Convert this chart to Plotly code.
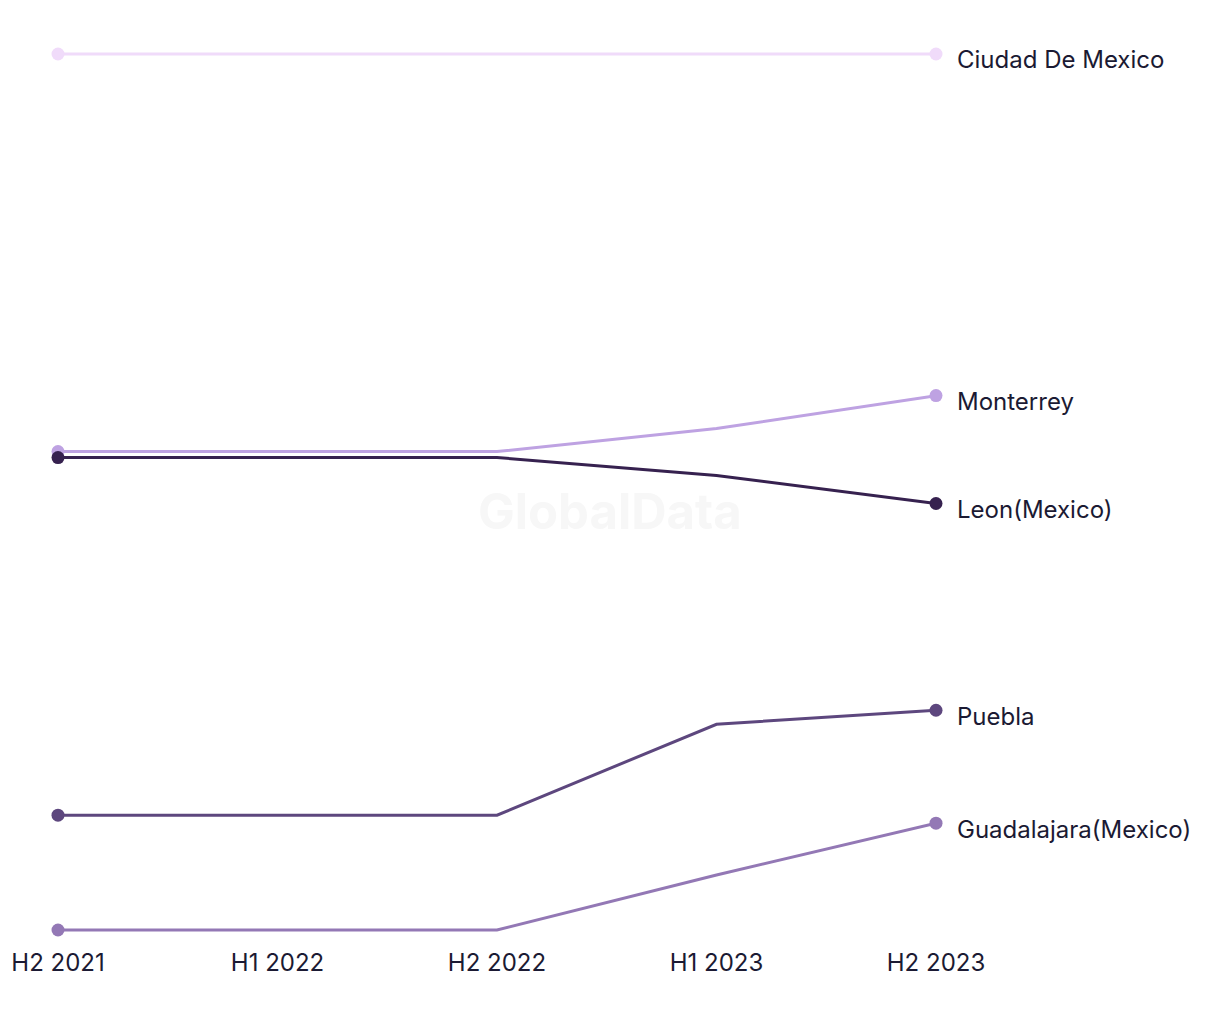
import plotly.graph_objects as go

periods = ["H2 2021", "H1 2022", "H2 2022", "H1 2023", "H2 2023"]
cities = ["Ciudad De Mexico", "Monterrey", "Leon(Mexico)", "Puebla", "Guadalajara(Mexico)"]
ciudad = [94.7, 94.7, 94.7, 94.7, 94.7]
monterrey = [54.9, 54.9, 54.9, 57.2, 60.5]
leon = [54.3, 54.3, 54.3, 52.5, 49.7]
puebla = [18.5, 18.5, 18.5, 27.6, 29.0]
guadalajara = [7.0, 7.0, 7.0, 12.5, 17.7]
colors = ["#f0dbfa", "#bea2e2", "#36214f", "#5d477e", "#9378b5"]

series = [ciudad, monterrey, leon, puebla, guadalajara]
xs = list(range(len(periods)))
FONT = "Inter"

fig = go.Figure()
for name, vals, col in zip(cities, series, colors):
    fig.add_trace(go.Scatter(
        x=xs, y=vals, mode="lines", name=name,
        line=dict(color=col, width=3), showlegend=False,
        hoverinfo="skip"))
    fig.add_trace(go.Scatter(
        x=[xs[0], xs[-1]], y=[vals[0], vals[-1]], mode="markers",
        marker=dict(color=col, size=13), showlegend=False, cliponaxis=False,
        hoverinfo="skip"))
    fig.add_annotation(x=xs[-1], y=vals[-1], text=name, showarrow=False,
                       xanchor="left", yanchor="middle", xshift=19, yshift=-6,
                       font=dict(family=FONT, size=24, color="#1b1a33"))

all_vals = [v for s in series for v in s]
pad = 1.0
fig.add_annotation(x=0.629, y=0.478, xref="paper", yref="paper", text="<b>GlobalData</b>",
                   showarrow=False, font=dict(family=FONT, size=49, color="#f7f7f7"))

fig.update_layout(
    width=1220, height=1020,
    margin=dict(l=50, r=292, t=36, b=88, autoexpand=False),
    plot_bgcolor="white", paper_bgcolor="white",
    xaxis=dict(range=[0, len(periods) - 1], tickvals=xs, ticktext=periods,
               showgrid=False, zeroline=False, showline=False, ticks="",
               ticklen=0, automargin=False, ticklabelstandoff=6,
               tickfont=dict(family=FONT, size=24, color="#1b1a33")),
    yaxis=dict(range=[min(all_vals) - pad, max(all_vals) + pad], visible=False,
               showgrid=False, zeroline=False, automargin=False),
)
fig.write_html("out.html")
